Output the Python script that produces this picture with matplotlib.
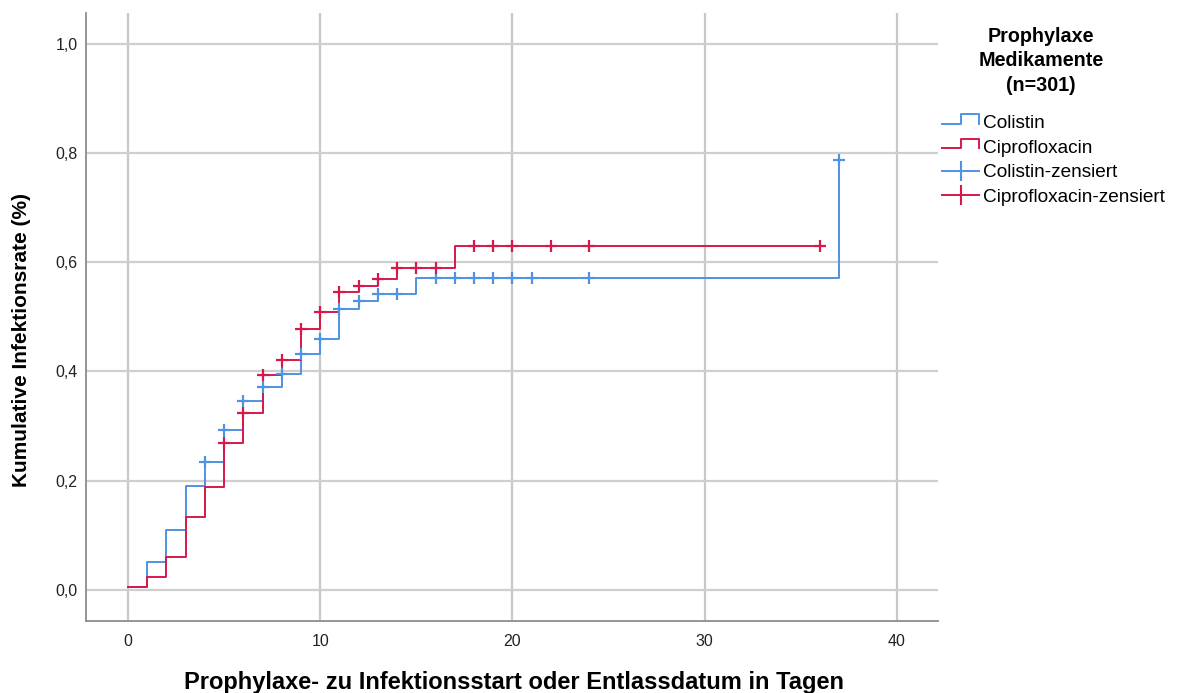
import matplotlib
matplotlib.use("Agg")
import matplotlib.pyplot as plt
from matplotlib.lines import Line2D
from matplotlib.legend_handler import HandlerBase, HandlerLine2D
from matplotlib.ticker import FuncFormatter

plt.rcParams['font.family'] = ['Liberation Sans', 'DejaVu Sans']

# ---- data ----
colistin_times = [0, 1, 2, 3, 4, 5, 6, 7, 8, 9, 10, 11, 12, 13, 15, 37]
colistin_values = [0.005, 0.051, 0.110, 0.190, 0.234, 0.293, 0.346, 0.371, 0.396,
                   0.431, 0.459, 0.514, 0.528, 0.542, 0.570, 0.786]
colistin_censored = [4, 5, 6, 7, 8, 9, 10, 11, 12, 13, 14, 16, 17, 18, 19, 20, 21, 24, 37]

cipro_times = [0, 1, 2, 3, 4, 5, 6, 7, 8, 9, 10, 11, 12, 13, 14, 17]
cipro_values = [0.005, 0.023, 0.061, 0.134, 0.189, 0.269, 0.324, 0.394, 0.421,
                0.477, 0.508, 0.545, 0.556, 0.569, 0.590, 0.630]
cipro_end = 36
cipro_censored = [5, 6, 7, 8, 9, 10, 11, 12, 13, 14, 15, 16, 18, 19, 20, 22, 24, 36]

labels = ["Colistin", "Ciprofloxacin", "Colistin-zensiert", "Ciprofloxacin-zensiert"]
legend_title = "Prophylaxe\nMedikamente\n(n=301)"
x_label = "Prophylaxe- zu Infektionsstart oder Entlassdatum in Tagen"
y_label = "Kumulative Infektionsrate (%)"
xticks = [0, 10, 20, 30, 40]
yticks = [0.0, 0.2, 0.4, 0.6, 0.8, 1.0]

BLUE = "#4f93e2"
RED = "#d6184a"


def value_at(times, values, t):
    v = values[0]
    for ti, vi in zip(times, values):
        if ti <= t:
            v = vi
    return v


W, H = 1177, 693
fig = plt.figure(figsize=(W / 100, H / 100), dpi=100)
ax = fig.add_axes([86 / W, 1 - 621 / H, (938 - 86) / W, (621 - 13) / H])

ax.set_xlim(-2.18, 42.13)
ax.set_ylim(-0.057, 1.056)

# grid
for x in xticks:
    ax.axvline(x, color="#c8c8c8", lw=1.6, zorder=0)
for y in yticks:
    ax.axhline(y, color="#cfcfcf", lw=1.6, zorder=0)

# step lines
ax.step(colistin_times, colistin_values, where="post", color=BLUE, lw=1.4, zorder=2)
ax.step(cipro_times + [cipro_end], cipro_values + [cipro_values[-1]], where="post",
        color=RED, lw=1.4, zorder=3)

# censor marks
ax.plot(colistin_censored, [value_at(colistin_times, colistin_values, t) for t in colistin_censored],
        linestyle="none", marker="+", ms=8, mew=1.6, color=BLUE, zorder=4)
ax.plot(cipro_censored, [value_at(cipro_times, cipro_values, t) for t in cipro_censored],
        linestyle="none", marker="+", ms=8, mew=1.6, color=RED, zorder=5)

for s in ["top", "right"]:
    ax.spines[s].set_visible(False)
for s in ["left", "bottom"]:
    ax.spines[s].set_color("#8c8c8c")
    ax.spines[s].set_linewidth(1.3)

ax.set_xticks(xticks)
ax.set_yticks(yticks)
ax.yaxis.set_major_formatter(FuncFormatter(lambda v, p: f"{v:.1f}".replace(".", ",")))
ax.tick_params(length=0, labelsize=11.5, colors="#222222")
ax.tick_params(axis="x", pad=9)
ax.tick_params(axis="y", pad=6)

fig.text(514 / W, 1 - 689 / H, x_label, ha="center", va="baseline",
         fontsize=17, fontweight="bold")
fig.text(22 / W, 1 - 340 / H, y_label, ha="center", va="center", rotation=90,
         fontsize=15, fontweight="bold")


class StepHandler(HandlerBase):
    def create_artists(self, legend, orig_handle, xdescent, ydescent, width, height, fontsize, trans):
        x0 = -xdescent
        x1 = x0 + width
        xm = x0 + width * 0.5
        y0 = -ydescent + height * 0.35
        y1 = -ydescent + height * 1.05
        ln = Line2D([x0, xm, xm, x1, x1], [y0, y0, y1, y1, y0],
                    color=orig_handle.get_color(), lw=1.4)
        ln.set_transform(trans)
        return [ln]


h1 = Line2D([], [], color=BLUE)
h2 = Line2D([], [], color=RED)
h3 = Line2D([], [], color=BLUE, lw=1.4, marker="|", ms=14, mew=1.5)
h4 = Line2D([], [], color=RED, lw=1.4, marker="|", ms=14, mew=1.5)

fig.legend([h1, h2, h3, h4], labels, loc="upper left",
           bbox_to_anchor=(942 / W, 1 - 115 / H), frameon=False,
           fontsize=13.7, handlelength=1.95, handletextpad=0.2, labelspacing=0.38,
           borderaxespad=0, borderpad=0,
           handler_map={h1: StepHandler(), h2: StepHandler(),
                        h3: HandlerLine2D(marker_pad=0, numpoints=1),
                        h4: HandlerLine2D(marker_pad=0, numpoints=1)})

fig.text(1041 / W, 1 - 27 / H, legend_title, ha="center", va="top",
         fontsize=14.2, fontweight="bold", linespacing=1.36)

fig.savefig("out.png", dpi=100)
